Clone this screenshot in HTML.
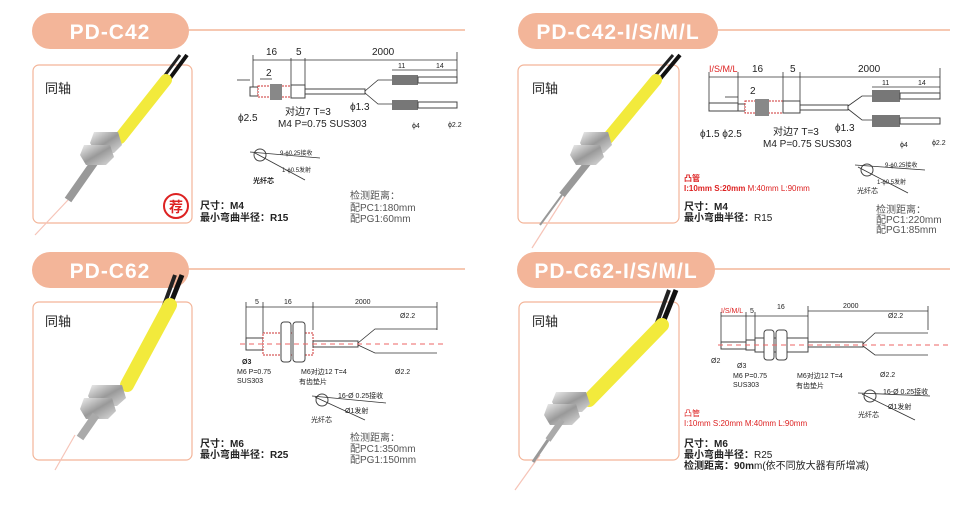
<!DOCTYPE html>
<html><head><meta charset="utf-8"><style>
html,body{margin:0;padding:0;background:#fff;width:964px;height:506px;overflow:hidden}
svg{display:block}
text{font-family:"Liberation Sans","Noto Sans CJK SC",sans-serif}
.t{fill:#222}
.ttl{font-weight:bold;fill:#fff;font-size:21px;letter-spacing:1px}
.ln{stroke:#333;stroke-width:.8;fill:none}
.th{stroke:#444;stroke-width:1;fill:#fff}
</style></head><body>
<svg width="964" height="506" viewBox="0 0 964 506" xmlns="http://www.w3.org/2000/svg">
<defs>
<linearGradient id="met" x1="0" y1="0" x2="1" y2="1"><stop offset="0" stop-color="#eee"/><stop offset=".5" stop-color="#999"/><stop offset="1" stop-color="#ddd"/></linearGradient>
</defs>
<!-- headers -->
<rect x="32" y="13" width="157" height="36" rx="18" fill="#f3b599"/>
<text x="110" y="39" text-anchor="middle" class="ttl">PD-C42</text>
<line x1="188" y1="30" x2="465" y2="30" stroke="#f3b599" stroke-width="1.5"/>
<rect x="518" y="13" width="200" height="36" rx="18" fill="#f3b599"/>
<text x="618" y="39" text-anchor="middle" class="ttl">PD-C42-I/S/M/L</text>
<line x1="716" y1="30" x2="950" y2="30" stroke="#f3b599" stroke-width="1.5"/>
<rect x="32" y="252" width="157" height="36" rx="18" fill="#f3b599"/>
<text x="110" y="278" text-anchor="middle" class="ttl">PD-C62</text>
<line x1="188" y1="269" x2="465" y2="269" stroke="#f3b599" stroke-width="1.5"/>
<rect x="517" y="252" width="198" height="36" rx="18" fill="#f3b599"/>
<text x="616" y="278" text-anchor="middle" class="ttl">PD-C62-I/S/M/L</text>
<line x1="714" y1="269" x2="950" y2="269" stroke="#f3b599" stroke-width="1.5"/>

<!-- boxes -->
<rect x="33" y="65" width="159" height="158" rx="6" fill="none" stroke="#f3b599" stroke-width="1.2"/>
<rect x="518" y="65" width="161" height="158" rx="6" fill="none" stroke="#f3b599" stroke-width="1.2"/>
<rect x="33" y="302" width="159" height="158" rx="6" fill="none" stroke="#f3b599" stroke-width="1.2"/>
<rect x="519" y="302" width="160" height="158" rx="6" fill="none" stroke="#f3b599" stroke-width="1.2"/>
<text x="45" y="93" font-size="13" class="t">同轴</text>
<text x="532" y="93" font-size="13" class="t">同轴</text>
<text x="45" y="326" font-size="13" class="t">同轴</text>
<text x="532" y="326" font-size="13" class="t">同轴</text>

<!-- product Q1 -->
<g>
<line x1="68" y1="200" x2="35" y2="235" stroke="#f6c4b8" stroke-width="1.2"/>
<line x1="187" y1="55" x2="165" y2="85" stroke="#111" stroke-width="4"/>
<line x1="180" y1="55" x2="160" y2="82" stroke="#222" stroke-width="3"/>
<line x1="166" y1="80" x2="120" y2="138" stroke="#f2ea3c" stroke-width="12" stroke-linecap="round"/>
<line x1="96" y1="160" x2="68" y2="200" stroke="#999" stroke-width="8"/>
<polygon points="94,132 118,132 122,145 114,153 96,153 90,143" fill="url(#met)"/>
<polygon points="84,145 110,145 114,157 106,165 86,165 80,155" fill="url(#met)"/>
<circle cx="176" cy="206" r="12" fill="#fff" stroke="#d22" stroke-width="2"/>
<text x="176" y="212" text-anchor="middle" font-size="14" font-weight="bold" fill="#d22">荐</text>
</g>
<!-- product Q2 -->
<g>
<line x1="572" y1="185" x2="532" y2="248" stroke="#f6c4b8" stroke-width="1.2"/>
<line x1="680" y1="55" x2="655" y2="85" stroke="#111" stroke-width="4"/>
<line x1="673" y1="55" x2="650" y2="82" stroke="#222" stroke-width="3"/>
<line x1="656" y1="80" x2="608" y2="138" stroke="#f2ea3c" stroke-width="12" stroke-linecap="round"/>
<line x1="590" y1="160" x2="562" y2="195" stroke="#999" stroke-width="7"/>
<line x1="562" y1="195" x2="540" y2="225" stroke="#999" stroke-width="2"/>
<polygon points="584,132 608,132 612,145 604,153 586,153 580,143" fill="url(#met)"/>
<polygon points="574,145 600,145 604,157 596,165 576,165 570,155" fill="url(#met)"/>
</g>
<!-- product Q3 -->
<g>
<line x1="75" y1="435" x2="55" y2="470" stroke="#f6c4b8" stroke-width="1.2"/>
<line x1="182" y1="275" x2="168" y2="310" stroke="#111" stroke-width="5"/>
<line x1="175" y1="275" x2="163" y2="308" stroke="#222" stroke-width="4"/>
<line x1="170" y1="305" x2="127" y2="385" stroke="#f2ea3c" stroke-width="14" stroke-linecap="round"/>
<polygon points="92,385 122,385 126,398 117,406 94,406 88,396" fill="url(#met)"/>
<polygon points="84,398 112,398 116,411 108,419 86,419 80,409" fill="url(#met)"/>
<line x1="96" y1="415" x2="80" y2="438" stroke="#aaa" stroke-width="8"/>
</g>
<!-- product Q4 -->
<g>
<line x1="540" y1="455" x2="515" y2="490" stroke="#f6c4b8" stroke-width="1.2"/>
<line x1="676" y1="290" x2="660" y2="330" stroke="#111" stroke-width="5"/>
<line x1="669" y1="290" x2="655" y2="328" stroke="#222" stroke-width="4"/>
<line x1="662" y1="325" x2="589" y2="400" stroke="#f2ea3c" stroke-width="14" stroke-linecap="round"/>
<polygon points="556,392 586,392 590,404 582,412 558,412 552,402" fill="url(#met)"/>
<polygon points="548,404 576,404 580,417 572,425 550,425 544,415" fill="url(#met)"/>
<line x1="562" y1="420" x2="548" y2="440" stroke="#aaa" stroke-width="6"/>
<line x1="548" y1="440" x2="533" y2="462" stroke="#999" stroke-width="3"/>
</g>

<!-- Q1 drawing -->
<g font-size="9" class="t">
<text x="266" y="55" font-size="10">16</text><text x="296" y="55" font-size="10">5</text><text x="372" y="55" font-size="10">2000</text>
<line class="ln" x1="253" y1="60" x2="457" y2="60"/>
<line class="ln" x1="253" y1="55" x2="253" y2="95"/><line class="ln" x1="291" y1="58" x2="291" y2="90"/><line class="ln" x1="305" y1="58" x2="305" y2="90"/><line class="ln" x1="457" y1="52" x2="457" y2="82"/>
<text x="266" y="76" font-size="10">2</text><line class="ln" x1="260" y1="79" x2="272" y2="79"/>
<line class="ln" x1="237" y1="80" x2="250" y2="80"/>
<rect x="250" y="87" width="8" height="9" class="th"/>
<rect x="258" y="86" width="33" height="11" class="th" stroke-dasharray="2 1" style="stroke:#c33"/>
<rect x="270" y="84" width="12" height="16" fill="#888"/>
<rect x="291" y="85" width="14" height="13" class="th"/>
<rect x="305" y="89" width="60" height="5" class="th"/>
<path class="ln" d="M365,91 L378,80 L392,80 M365,93 L378,104 L392,104"/>
<rect x="392" y="75" width="26" height="10" fill="#777"/><rect x="392" y="100" width="26" height="10" fill="#777"/>
<rect x="418" y="77" width="39" height="6" class="th"/><rect x="418" y="102" width="39" height="6" class="th"/>
<line class="ln" x1="392" y1="70" x2="457" y2="70"/><text x="398" y="68" font-size="7">11</text><text x="436" y="68" font-size="7">14</text>
<text x="238" y="121" font-size="10">ϕ2.5</text><text x="285" y="115" font-size="10">对边7 T=3</text><text x="278" y="127" font-size="10">M4 P=0.75 SUS303</text>
<text x="350" y="110" font-size="10">ϕ1.3</text><text x="412" y="128" font-size="7">ϕ4</text><text x="448" y="127" font-size="7">ϕ2.2</text>
<circle cx="260" cy="155" r="6" class="th"/><line class="ln" x1="250" y1="152" x2="320" y2="158"/><line class="ln" x1="255" y1="153" x2="305" y2="180"/>
<text x="280" y="155" font-size="6">9-ϕ0.25接收</text><text x="282" y="172" font-size="6">1-ϕ0.5发射</text>
<text x="253" y="183" font-size="7" font-weight="bold">光纤芯</text>
</g>
<text x="200" y="209" font-size="10" font-weight="bold" class="t">尺寸：M4</text>
<text x="200" y="221" font-size="10" font-weight="bold" class="t">最小弯曲半径：R15</text>
<text x="350" y="199" font-size="10" fill="#555">检测距离：</text>
<text x="350" y="211" font-size="10" fill="#555">配PC1:180mm</text>
<text x="350" y="222" font-size="10" fill="#555">配PG1:60mm</text>

<!-- Q2 drawing -->
<g font-size="9" class="t">
<text x="709" y="72" font-size="9" fill="#d22">I/S/M/L</text><text x="752" y="72" font-size="10">16</text><text x="790" y="72" font-size="10">5</text><text x="858" y="72" font-size="10">2000</text>
<line class="ln" x1="709" y1="77" x2="940" y2="77"/>
<line class="ln" x1="709" y1="72" x2="709" y2="110"/><line class="ln" x1="738" y1="72" x2="738" y2="110"/><line class="ln" x1="783" y1="72" x2="783" y2="105"/><line class="ln" x1="800" y1="72" x2="800" y2="105"/><line class="ln" x1="940" y1="68" x2="940" y2="98"/>
<text x="750" y="94" font-size="10">2</text><line class="ln" x1="725" y1="97" x2="738" y2="97"/>
<rect x="709" y="103" width="29" height="8" class="th"/>
<rect x="738" y="104" width="7" height="7" class="th"/>
<rect x="745" y="101" width="38" height="12" class="th" style="stroke:#c33" stroke-dasharray="2 1"/>
<rect x="755" y="99" width="14" height="17" fill="#888"/>
<rect x="783" y="101" width="17" height="12" class="th"/>
<rect x="800" y="105" width="48" height="5" class="th"/>
<path class="ln" d="M848,106 L862,96 L872,96 M848,109 L862,120 L872,120"/>
<rect x="872" y="90" width="28" height="12" fill="#777"/><rect x="872" y="115" width="28" height="12" fill="#777"/>
<rect x="900" y="93" width="40" height="6" class="th"/><rect x="900" y="118" width="40" height="6" class="th"/>
<line class="ln" x1="872" y1="87" x2="940" y2="87"/><text x="882" y="85" font-size="7">11</text><text x="918" y="85" font-size="7">14</text>
<text x="700" y="137" font-size="10">ϕ1.5 ϕ2.5</text><text x="773" y="135" font-size="10">对边7 T=3</text><text x="763" y="147" font-size="10">M4 P=0.75 SUS303</text>
<text x="835" y="131" font-size="10">ϕ1.3</text><text x="900" y="147" font-size="7">ϕ4</text><text x="932" y="145" font-size="7">ϕ2.2</text>
<circle cx="867" cy="170" r="6" class="th"/><line class="ln" x1="855" y1="165" x2="925" y2="170"/><line class="ln" x1="858" y1="167" x2="908" y2="193"/>
<text x="885" y="167" font-size="6">9-ϕ0.25接收</text><text x="877" y="184" font-size="6">1-ϕ0.5发射</text>
<text x="857" y="193" font-size="7">光纤芯</text>
<text x="684" y="181" font-size="8" font-weight="bold" fill="#d22">凸管</text>
<text x="684" y="191" font-size="8" fill="#d22"><tspan font-weight="bold">I:10mm  S:20mm</tspan> M:40mm  L:90mm</text>
</g>
<text x="684" y="210" font-size="10" font-weight="bold" class="t">尺寸：M4</text>
<text x="684" y="221" font-size="10" class="t"><tspan font-weight="bold">最小弯曲半径：</tspan>R15</text>
<text x="876" y="213" font-size="10" fill="#555">检测距离：</text>
<text x="876" y="223" font-size="10" fill="#555">配PC1:220mm</text>
<text x="876" y="233" font-size="10" fill="#555">配PG1:85mm</text>

<!-- Q3 drawing -->
<g font-size="7" class="t">
<text x="255" y="304">5</text><text x="284" y="304">16</text><text x="355" y="304">2000</text>
<line class="ln" x1="246" y1="307" x2="437" y2="307"/>
<line class="ln" x1="246" y1="302" x2="246" y2="348"/><line class="ln" x1="263" y1="302" x2="263" y2="335"/><line class="ln" x1="313" y1="302" x2="313" y2="330"/><line class="ln" x1="437" y1="302" x2="437" y2="330"/>
<rect x="246" y="338" width="17" height="12" class="th"/>
<rect x="263" y="333" width="50" height="22" class="th" style="stroke:#c33" stroke-dasharray="2 1"/>
<rect x="281" y="322" width="10" height="40" rx="3" class="th"/><rect x="293" y="322" width="12" height="40" rx="3" class="th"/>
<rect x="313" y="341" width="45" height="6" class="th"/>
<path class="ln" d="M358,343 L375,329 L437,329 M358,345 L375,353 L437,353"/>
<line x1="240" y1="344" x2="445" y2="344" stroke="#e66" stroke-dasharray="5 4" stroke-width="1"/>
<text x="400" y="318">Ø2.2</text><text x="395" y="374">Ø2.2</text>
<text x="242" y="364" font-weight="bold">Ø3</text><text x="237" y="374">M6 P=0.75</text><text x="237" y="383">SUS303</text>
<text x="301" y="374">M6对边12 T=4</text><text x="299" y="384">有齿垫片</text>
<circle cx="322" cy="400" r="6" class="th"/><line class="ln" x1="312" y1="396" x2="386" y2="403"/><line class="ln" x1="315" y1="397" x2="365" y2="420"/>
<text x="338" y="398">16-Ø 0.25接收</text><text x="345" y="413">Ø1发射</text>
<text x="311" y="422">光纤芯</text>
</g>
<text x="200" y="447" font-size="10" font-weight="bold" class="t">尺寸：M6</text>
<text x="200" y="458" font-size="10" font-weight="bold" class="t">最小弯曲半径：R25</text>
<text x="350" y="441" font-size="10" fill="#555">检测距离：</text>
<text x="350" y="452" font-size="10" fill="#555">配PC1:350mm</text>
<text x="350" y="463" font-size="10" fill="#555">配PG1:150mm</text>

<!-- Q4 drawing -->
<g font-size="7" class="t">
<text x="721" y="313" fill="#d22">I/S/M/L</text><text x="750" y="313">5</text><text x="777" y="309">16</text><text x="843" y="308">2000</text>
<line class="ln" x1="721" y1="316" x2="808" y2="316"/><line class="ln" x1="808" y1="311" x2="928" y2="311"/>
<line class="ln" x1="721" y1="312" x2="721" y2="348"/><line class="ln" x1="746" y1="312" x2="746" y2="340"/><line class="ln" x1="755" y1="312" x2="755" y2="340"/><line class="ln" x1="808" y1="306" x2="808" y2="340"/><line class="ln" x1="928" y1="306" x2="928" y2="330"/>
<rect x="721" y="342" width="25" height="7" class="th"/>
<rect x="746" y="340" width="9" height="10" class="th"/>
<rect x="755" y="338" width="53" height="14" class="th"/>
<rect x="764" y="330" width="10" height="30" rx="3" class="th"/><rect x="776" y="330" width="11" height="30" rx="3" class="th"/>
<rect x="808" y="342" width="55" height="5" class="th"/>
<path class="ln" d="M863,344 L875,333 L928,333 M863,346 L875,355 L928,355"/>
<line x1="718" y1="345" x2="950" y2="345" stroke="#e66" stroke-dasharray="5 4" stroke-width="1"/>
<text x="888" y="318">Ø2.2</text><text x="880" y="377">Ø2.2</text>
<text x="711" y="363">Ø2</text><text x="737" y="368">Ø3</text><text x="733" y="378">M6 P=0.75</text><text x="733" y="387">SUS303</text>
<text x="797" y="378">M6对边12 T=4</text><text x="796" y="388">有齿垫片</text>
<circle cx="870" cy="396" r="6" class="th"/><line class="ln" x1="858" y1="393" x2="930" y2="396"/><line class="ln" x1="862" y1="394" x2="915" y2="420"/>
<text x="883" y="394">16-Ø 0.25接收</text><text x="888" y="409">Ø1发射</text>
<text x="858" y="417">光纤芯</text>
</g>
<text x="684" y="416" font-size="8" fill="#d22">凸管</text>
<text x="684" y="426" font-size="8" fill="#d22">I:10mm  S:20mm  M:40mm  L:90mm</text>
<text x="684" y="447" font-size="10" font-weight="bold" class="t">尺寸：M6</text>
<text x="684" y="458" font-size="10" class="t"><tspan font-weight="bold">最小弯曲半径：</tspan>R25</text>
<text x="684" y="469" font-size="10" class="t"><tspan font-weight="bold">检测距离：90m</tspan>m(依不同放大器有所增减)</text>
</svg>
</body></html>
